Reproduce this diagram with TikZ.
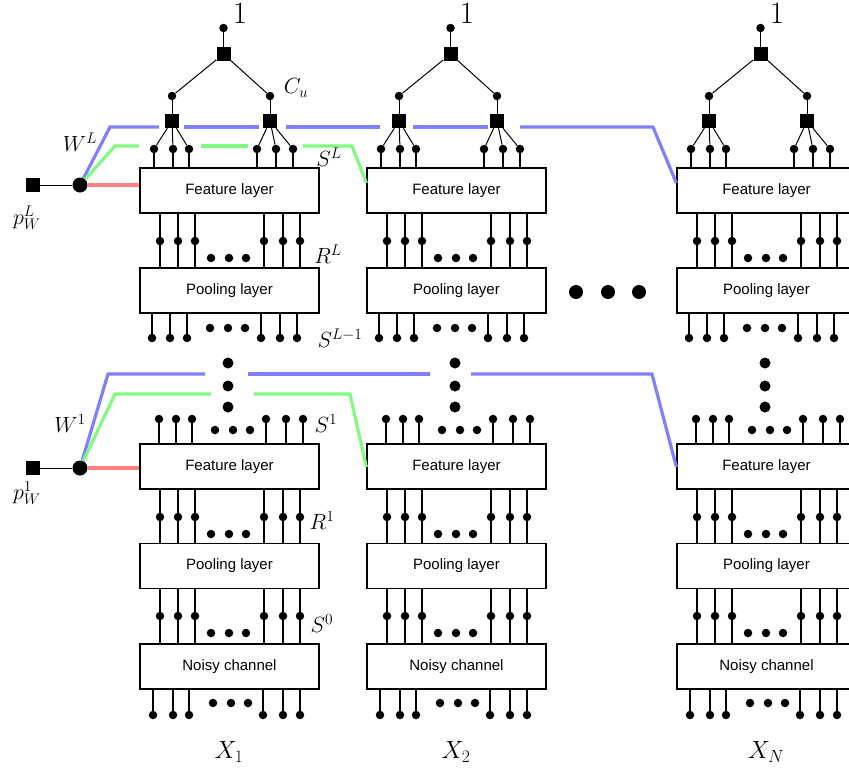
\RequirePackage{fix-cm}
\documentclass[tikz,border=0pt]{standalone}
\usepackage{fontspec}
\setsansfont{Liberation Sans}
\definecolor{wblue}{RGB}{128,128,255}
\definecolor{wgreen}{RGB}{128,250,128}
\definecolor{wred}{RGB}{255,128,128}
\begin{document}
\begin{tikzpicture}[x=1pt,y=-1pt,
  dt/.style={circle,fill,inner sep=0pt,minimum size=8.5pt},
  sq/.style={rectangle,fill,inner sep=0pt,minimum size=14pt},
  ed/.style={circle,fill,inner sep=0pt,minimum size=8.5pt},
  vd/.style={circle,fill,inner sep=0pt,minimum size=11pt},
  hd/.style={circle,fill,inner sep=0pt,minimum size=14pt},
  bd/.style={circle,fill,inner sep=0pt,minimum size=15pt},
  lay/.style={draw,line width=1.3pt,minimum width=179pt,minimum height=45pt,inner sep=0pt,font=\fontsize{15}{18}\selectfont\sffamily},
  wire/.style={line width=1.3pt},
  tree/.style={line width=1pt},
  lbl/.style={font=\fontsize{22}{26}\selectfont,inner sep=0pt},
  xl/.style={font=\fontsize{25}{30}\selectfont,inner sep=0pt},
  one/.style={font=\fontsize{31}{36}\selectfont,inner sep=0pt},
  bl/.style={line width=3.2pt,draw=wblue},
  gl/.style={line width=3.2pt,draw=wgreen},
  rl/.style={line width=3.2pt,draw=wred}]
\useasboundingbox (0,0) rectangle (849,769);
\clip (0,0) rectangle (849,769);

\foreach \c/\o/\xn in {1/0/1,2/227/2,3/537/N}{
\begin{scope}[xshift=\o pt]
  % layer boxes
  \node[lay] (fa\c) at (229.5,190.5) {Feature layer};
  \node[lay] (pa\c) at (229.5,290.5) {Pooling layer};
  \node[lay] (fb\c) at (229.5,466.5) {Feature layer};
  \node[lay] (pb\c) at (229.5,566) {Pooling layer};
  \node[lay] (nc\c) at (229.5,666.5) {Noisy channel};
  % tree
  \node[dt] (r\c) at (223.5,28) {};
  \node[one] (one\c) at (240,14) {$1$};
  \node[sq] (rs\c) at (223.5,54) {};
  \node[dt] (ml\c) at (172,96) {};
  \node[dt] (mr\c) at (270,96) {};
  \node[sq] (sl\c) at (172,121) {};
  \node[sq] (sr\c) at (270,121) {};
  \draw[tree] (r\c) -- (rs\c);
  \draw[tree] (rs\c) -- (ml\c);
  \draw[tree] (rs\c) -- (mr\c);
  \draw[tree] (ml\c) -- (sl\c);
  \draw[tree] (mr\c) -- (sr\c);
  \foreach \i/\x in {1/154,2/173,3/189}{
    \node[dt] (lf\c-\i) at (\x,149) {};
    \draw[tree] (sl\c) -- (lf\c-\i);
    \draw[wire] (lf\c-\i) -- (lf\c-\i |- fa\c.north);
  }
  \foreach \i/\x in {4/257,5/276,6/293}{
    \node[dt] (lf\c-\i) at (\x,149) {};
    \draw[tree] (sr\c) -- (lf\c-\i);
    \draw[wire] (lf\c-\i) -- (lf\c-\i |- fa\c.north);
  }
  % feature -> pooling (upper)
  \foreach \i/\x in {1/160,2/178,3/195,4/264,5/283,6/300}{
    \node[dt] (ra\c-\i) at (\x,241) {};
    \draw[wire] (ra\c-\i |- fa\c.south) -- (ra\c-\i |- pa\c.north);
  }
  \foreach \i/\x in {1/211,2/229,3/246}{\node[ed] (ea\c-\i) at (\x,258) {};}
  % pooling -> S^{L-1}
  \foreach \i/\x in {1/152,2/170,3/187,4/261,5/280,6/297}{
    \node[dt] (sa\c-\i) at (\x,338) {};
    \draw[wire] (sa\c-\i) -- (sa\c-\i |- pa\c.south);
  }
  \foreach \i/\x in {1/210,2/228,3/245}{\node[ed] (eb\c-\i) at (\x,328) {};}
  % vertical dots
  \foreach \i/\y in {1/363,2/386,3/407}{\node[vd] (vd\c-\i) at (228,\y) {};}
  % S^1
  \foreach \i/\x in {1/159,2/176,3/192,4/266,5/286,6/303}{
    \node[dt] (sb\c-\i) at (\x,419) {};
    \draw[wire] (sb\c-\i) -- (sb\c-\i |- fb\c.north);
  }
  \foreach \i/\x in {1/215,2/233,3/250}{\node[ed] (ec\c-\i) at (\x,430) {};}
  % feature -> pooling (lower)
  \foreach \i/\x in {1/160,2/178,3/195,4/264,5/283,6/300}{
    \node[dt] (rb\c-\i) at (\x,517) {};
    \draw[wire] (rb\c-\i |- fb\c.south) -- (rb\c-\i |- pb\c.north);
    \node[dt] (s0\c-\i) at (\x,616) {};
    \draw[wire] (s0\c-\i |- pb\c.south) -- (s0\c-\i |- nc\c.north);
  }
  \foreach \i/\x in {1/211,2/229,3/246}{
    \node[ed] (ed\c-\i) at (\x,534) {};
    \node[ed] (ee\c-\i) at (\x,633) {};
  }
  % channel outputs
  \foreach \i/\x in {1/153,2/173,3/189,4/263,5/283,6/300}{
    \node[dt] (xo\c-\i) at (\x,715) {};
    \draw[wire] (xo\c-\i) -- (xo\c-\i |- nc\c.south);
  }
  \foreach \i/\x in {1/213,2/231,3/248}{\node[ed] (ef\c-\i) at (\x,703) {};}
  \node[xl] (X\c) at (229,752) {$X_{\xn}$};
\end{scope}
}

% dots between columns
\node[hd] (h1) at (576,292) {};
\node[hd] (h2) at (608,292) {};
\node[hd] (h3) at (639,292) {};

% left parts, top
\node[sq] (pL) at (33,185) {};
\node[bd] (wL) at (80,185) {};
\draw[tree] (pL) -- (wL);
\draw[rl] (wL) -- (wL -| fa1.west);
\coordinate (bt0) at (110,127);
\draw[bl] (wL) -- (bt0) -- (159,127);
\draw[bl] (184,127) -- (259,127);
\draw[bl] (286,127) -- (380,127);
\draw[bl] (413,127) -- (488,127);
\draw[bl] (520,127) -- (653,127) -- ([yshift=7.5pt]fa3.west);
\coordinate (gt0) at (115,146);
\draw[gl] (wL) -- (gt0) -- (139,146);
\draw[gl] (201,146) -- (248,146);
\draw[gl] (303,146) -- (352,146) -- ([yshift=7.5pt]fa2.west);

% left parts, lower
\node[sq] (p1) at (33,468) {};
\node[bd] (w1) at (80,468) {};
\draw[tree] (p1) -- (w1);
\draw[rl] (w1) -- (w1 -| fb1.west);
\coordinate (bb0) at (108,374);
\draw[bl] (w1) -- (bb0) -- (205,374);
\draw[bl] (248,374) -- (430,374);
\draw[bl] (471,374) -- (652,374) -- ([yshift=-0.5pt]fb3.west);
\coordinate (gb0) at (115,394);
\draw[gl] (w1) -- (gb0) -- (211,394);
\draw[gl] (254,394) -- (350,394) -- ([yshift=-0.5pt]fb2.west);

% labels
\node[lbl] (lCu) at (296,88) {$C_u$};
\node[lbl] (lWL) at (80,142) {$W^L$};
\node[lbl] (lSL) at (329,157) {$S^L$};
\node[lbl] (lRL) at (328,254) {$R^L$};
\node[lbl] (lSL1) at (340,338) {$S^{L-1}$};
\node[lbl] (lW1) at (70,424) {$W^1$};
\node[lbl] (lS1) at (326,424) {$S^1$};
\node[lbl] (lR1) at (322,521) {$R^1$};
\node[lbl] (lS0) at (322,624) {$S^0$};
\node[lbl] (lpL) at (27,218) {$p_W^L$};
\node[lbl] (lp1) at (27,493) {$p_W^1$};
\end{tikzpicture}
\end{document}
